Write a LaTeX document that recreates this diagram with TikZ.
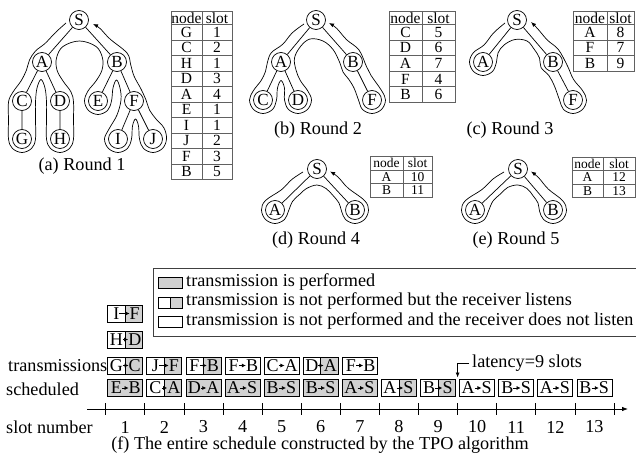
\documentclass[tikz,border=0pt]{standalone}
\usepackage{fontspec}
\setmainfont{Liberation Serif}
\usetikzlibrary{arrows.meta,calc}
\definecolor{fillg}{gray}{0.82}
\definecolor{tblc}{gray}{0.38}
\newcommand{\mktable}[9]{%
  \node[tcell,font=\fontsize{#9}{#9}\selectfont,minimum width={#3-#2},minimum height={#6-#5}] (#1hn) at ({(#2+#3)/2},{(#5+#6)/2}) {node};
  \node[tcell,font=\fontsize{#9}{#9}\selectfont,minimum width={#4-#3},minimum height={#6-#5}] (#1hs) at ({(#3+#4)/2},{(#5+#6)/2}) {slot};
  \foreach \nn/\ss [count=\ii] in {#8} {
    \node[tcell,font=\fontsize{#9}{#9}\selectfont,minimum width={#3-#2},minimum height={#7}] (#1n\ii) at ({(#2+#3)/2},{#6+#7*(\ii-0.5)}) {\nn};
    \node[tcell,font=\fontsize{#9}{#9}\selectfont,minimum width={#4-#3},minimum height={#7}] (#1s\ii) at ({(#3+#4)/2},{#6+#7*(\ii-0.5)}) {\ss};
  }}
\newcommand{\sbx}[6]{%
  \node[sbox,#6] (#1) at (#2,#3) {};
  \node[slet] (#1l) at ({#2-9},#3) {#4};
  \node[slet] (#1r) at ({#2+9.5},#3) {#5};
  \draw[sarr] (#1l.east) -- (#1r.west);}
\begin{document}
\begin{tikzpicture}[x=1pt,y=-1pt,
  tn/.style={circle,draw,line width=0.7pt,minimum size=19pt,inner sep=0pt,font=\fontsize{17}{17}\selectfont},
  edge/.style={line width=0.7pt},
  cont/.style={line width=0.7pt,-{Latex[length=5pt,width=4pt]}},
  capt/.style={inner sep=0pt,font=\fontsize{18.2}{20}\selectfont},
  tcell/.style={draw=tblc,line width=0.8pt,inner sep=0pt},
  sbox/.style={draw,line width=0.8pt,minimum width=35pt,minimum height=17pt,inner sep=0pt},
  sfull/.style={fill=fillg},
  shalf/.style={path picture={\fill[fillg] (path picture bounding box.north) rectangle (path picture bounding box.south east);
      \draw[line width=0.8pt] (path picture bounding box.north) -- (path picture bounding box.south);}},
  swhite/.style={},
  swatch/.style={draw,line width=0.8pt,minimum width=24pt,minimum height=11pt,inner sep=0pt},
  slet/.style={inner sep=0pt,font=\fontsize{18}{18}\selectfont},
  sarr/.style={line width=0.6pt,-{Latex[length=4pt,width=4pt]}},
  tk/.style={line width=0.8pt}
]
\useasboundingbox (0,0) rectangle (636,454);

% ---------- Round 1 ----------
\draw[cont] plot[smooth,tension=0.6] coordinates {(66,23) (55.5,32.5) (45,43.5) (35.5,51) (29.5,60) (26.5,70) (21,81) (13,92) (8.5,102) (8.5,120) (8.5,139) (12.5,148.5) (22,152.5) (31.5,148.5) (35.5,139) (35.5,120) (35.5,102) (37,88) (41,79.5) (45,88) (46.5,102) (46.5,120) (46.5,139) (50.5,148.5) (60,152.5) (69.5,148.5) (73.5,139) (73.5,120) (73.5,102) (71,92) (63,81) (57,70) (56.5,58) (63,46.5) (79.5,41) (96,46.5) (102.5,58) (102,70) (96,81) (88,91) (84.5,101) (88.5,110.5) (98,114.5) (107.5,110.5) (111.5,101) (113,88) (116.5,80) (120,88) (121,100) (117,115) (109,129) (104.5,139) (108.5,148.5) (118,152.5) (127.5,148.5) (131.5,139) (132.5,126) (135.5,119) (138.5,126) (139.5,139) (143.5,148.5) (153,152.5) (162.5,148.5) (166.5,139) (164,128) (156,119) (149.5,110) (146,100) (141,89) (134,76) (130.5,64) (127,53) (110,39) (100,28.5) (93,24)};
\node[tn] (aS) at (79,20) {S};
\node[tn] (aA) at (42,62) {A};
\node[tn] (aB) at (117,62) {B};
\node[tn] (aC) at (22,101) {C};
\node[tn] (aD) at (60,101) {D};
\node[tn] (aE) at (98,101) {E};
\node[tn] (aF) at (134,101) {F};
\node[tn] (aG) at (22,139) {G};
\node[tn] (aH) at (60,139) {H};
\node[tn] (aI) at (118,139) {I};
\node[tn] (aJ) at (153,139) {J};
\draw[edge] (aS)--(aA) (aS)--(aB) (aA)--(aC) (aA)--(aD) (aB)--(aE) (aB)--(aF) (aC)--(aG) (aD)--(aH) (aF)--(aI) (aF)--(aJ);
\node[capt] (capa) at (82,166) {(a) Round 1};
\mktable{ta}{171}{202}{232}{11}{24.5}{15.5}{G/1,C/2,H/1,D/3,A/4,E/1,I/1,J/2,F/3,B/5}{15.5}

% ---------- Round 2 ----------
\draw[cont] plot[smooth,tension=0.6] coordinates {(304,24) (292.3,32.8) (282.7,44.3) (271.5,52.5) (267.5,62) (265.5,71.3) (261.3,80.3) (253.5,90.5) (249.5,100) (253.5,109.5) (263,113.5) (272.5,109.5) (276.5,100) (277.5,88) (281,80.5) (284.5,88) (284.5,100) (288.5,109.5) (298,113.5) (307.5,109.5) (311.5,100) (307.5,90.5) (300.4,80.7) (296,70) (294.5,58) (300.5,46.5) (310,39) (323,41) (333,49.5) (339.5,62) (343,72) (348.5,79) (354,88) (358.5,100) (362.5,109.5) (372,113.5) (381.5,109.5) (385.5,100) (381.5,90.5) (371,75.4) (366.4,66.4) (359,50) (346.6,39.7) (336.7,28.4) (329,23)};
\node[tn] (bS) at (316,20) {S};
\node[tn] (bA) at (281,62) {A};
\node[tn] (bB) at (353,62) {B};
\node[tn] (bC) at (263,100) {C};
\node[tn] (bD) at (298,100) {D};
\node[tn] (bF) at (372,100) {F};
\draw[edge] (bS)--(bA) (bS)--(bB) (bA)--(bC) (bA)--(bD) (bB)--(bF);
\node[capt] (capb) at (318,130) {(b) Round 2};
\mktable{tb}{389}{422}{455}{11}{24.5}{15.6}{C/5,D/6,A/7,F/4,B/6}{15.5}

% ---------- Round 3 ----------
\draw[cont] plot[smooth,tension=0.6] coordinates {(505,23) (493.5,33) (484,45) (473.5,52.5) (469.5,62) (473.5,71.5) (483,75.5) (492.5,71.5) (496.5,62) (498,53) (504,45) (515,39.5) (527,41) (534,49) (539.5,58) (541,67.5) (548.9,75.6) (554.5,86.2) (559.5,100) (563.5,109.5) (573,113.5) (582.5,109.5) (586.5,100) (582.5,90.5) (573.5,79.4) (567.5,66) (558.4,49.6) (547.4,40.1) (537.6,28.7) (531,22)};
\node[tn] (cS) at (517,20) {S};
\node[tn] (cA) at (483,62) {A};
\node[tn] (cB) at (553,62) {B};
\node[tn] (cF) at (573,100) {F};
\draw[edge] (cS)--(cA) (cS)--(cB) (cB)--(cF);
\node[capt] (capc) at (510,130) {(c) Round 3};
\mktable{tc}{573}{607}{634}{11}{24.5}{15.6}{A/8,F/7,B/9}{15.5}

% ---------- Round 4 ----------
\draw[cont] plot[smooth,tension=0.6] coordinates {(303,172) (292,179.3) (281.4,189.8) (265.5,200.5) (261.5,210) (265.5,219.5) (275,223.5) (284.5,219.5) (288.5,211) (292.6,201.3) (299.7,194.3) (306.5,188.5) (317,185) (326,188.5) (333,195.5) (339,203) (341.5,211) (345.5,219.5) (355,223.5) (364.5,219.5) (368.5,210) (364.5,200.5) (348,188) (338,177) (330,171.5)};
\node[tn] (dS) at (317,169) {S};
\node[tn] (dA) at (275,210) {A};
\node[tn] (dB) at (355,210) {B};
\draw[edge] (dS)--(dA) (dS)--(dB);
\node[capt] (capd) at (316,240) {(d) Round 4};
\mktable{td}{370}{403}{432}{156.5}{170}{13.5}{A/10,B/11}{13.5}

% ---------- Round 5 ----------
\draw[cont] plot[smooth,tension=0.6] coordinates {(504,172) (493,179) (482.1,189.4) (465.5,200.5) (461.5,210) (465.5,219.5) (475,223.5) (484.5,219.5) (488.5,211) (493,201) (500.4,194) (507.6,187.5) (518,185) (527,188.5) (533,195.7) (538,203) (539.5,211) (543.5,219.5) (553,223.5) (562.5,219.5) (566.5,210) (562.5,200.5) (548.3,189.1) (538.6,177.7) (531,171.5)};
\node[tn] (eS) at (518,169) {S};
\node[tn] (eA) at (475,210) {A};
\node[tn] (eB) at (553,210) {B};
\draw[edge] (eS)--(eA) (eS)--(eB);
\node[capt] (cape) at (516,240) {(e) Round 5};
\mktable{te}{572}{603}{635}{157}{170.5}{13.5}{A/12,B/13}{13.5}

% ---------- Legend ----------
\node[draw=black!75,line width=1pt,minimum width=495pt,minimum height=68pt,anchor=north west,inner sep=0pt] (legend) at (152.5,268) {};
\node[swatch,sfull] (sw1) at (170,283) {};
\node[swatch,shalf] (sw2) at (170,302.5) {};
\node[swatch,swhite] (sw3) at (170,322) {};
\node[capt,anchor=west] (lg1) at (186,282) {transmission is performed};
\node[capt,anchor=west] (lg2) at (186,301.5) {transmission is not performed but the receiver listens};
\node[capt,anchor=west] (lg3) at (186,321) {transmission is not performed and the receiver does not listen};

% ---------- Schedule ----------
\sbx{xIF}{125.25}{313.5}{I}{F}{shalf}
\sbx{xHD}{125.25}{339.5}{H}{D}{shalf}
\sbx{t1}{125.25}{365.5}{G}{C}{shalf}
\sbx{t2}{164.35}{365.5}{J}{F}{shalf}
\sbx{t3}{203.45}{365.5}{F}{B}{shalf}
\sbx{t4}{242.55}{365.5}{F}{B}{swhite}
\sbx{t5}{281.65}{365.5}{C}{A}{swhite}
\sbx{t6}{320.75}{365.5}{D}{A}{shalf}
\sbx{t7}{359.85}{365.5}{F}{B}{swhite}
\sbx{s1}{125.25}{388}{E}{B}{sfull}
\sbx{s2}{164.35}{388}{C}{A}{shalf}
\sbx{s3}{203.45}{388}{D}{A}{sfull}
\sbx{s4}{242.55}{388}{A}{S}{sfull}
\sbx{s5}{281.65}{388}{B}{S}{sfull}
\sbx{s6}{320.75}{388}{B}{S}{sfull}
\sbx{s7}{359.85}{388}{A}{S}{sfull}
\sbx{s8}{398.95}{388}{A}{S}{shalf}
\sbx{s9}{438.05}{388}{B}{S}{shalf}
\sbx{s10}{477.15}{388}{A}{S}{swhite}
\sbx{s11}{516.25}{388}{B}{S}{swhite}
\sbx{s12}{555.35}{388}{A}{S}{swhite}
\sbx{s13}{594.45}{388}{B}{S}{swhite}

\node[capt,anchor=east] (ltr) at (107.5,365.5) {transmissions};
\node[capt,anchor=west] (lsc) at (6,389) {scheduled};
\node[capt,anchor=west] (lsn) at (6,427) {slot number};

% latency marker
\node[capt,anchor=west] (lat) at (472,363) {latency=9 slots};
\coordinate (latA) at (469,363);
\coordinate (latB) at (457.6,377.5);
\draw[line width=0.7pt,-{Latex[length=5pt,width=4pt]}] (latA) -| (latB);

% axis
\coordinate (ax0) at (87,409);
\coordinate (ax1) at (628,409);
\draw[line width=0.8pt,-{Latex[length=6pt,width=4.5pt]}] (ax0) -- (ax1);
\foreach \k in {0,...,13} \draw[tk] ({105.7+39.1*\k},403) -- ({105.7+39.1*\k},415);
\foreach \k in {1,...,13} \node[capt] (sn\k) at ({86.15+39.1*\k},427) {\k};

\node[capt] (capf) at (320,445.5) {(f) The entire schedule constructed by the TPO algorithm};
\end{tikzpicture}
\end{document}
